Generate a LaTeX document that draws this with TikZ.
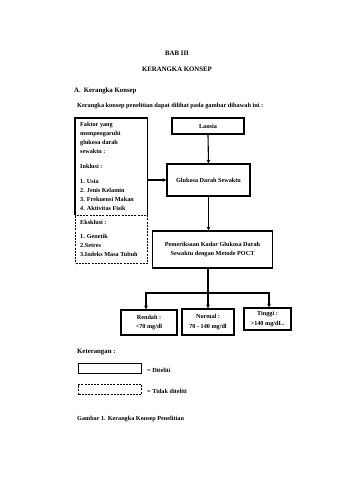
\documentclass[tikz,border=0pt]{standalone}
\usepackage{fontspec}
\setmainfont{Liberation Serif}
\usetikzlibrary{arrows.meta}
\begin{document}
\begin{tikzpicture}[x=1pt,y=-1pt,
  txt/.style={inner sep=0pt,font=\bfseries\fontsize{6.8}{9}\selectfont},
  btxt/.style={inner sep=0pt,font=\bfseries\fontsize{6.2}{9}\selectfont,align=left},
  ctxt/.style={inner sep=0pt,font=\bfseries\fontsize{6.2}{9.5}\selectfont,align=center},
  solidbox/.style={draw,line width=1.15pt,inner sep=0pt},
  dashbox/.style={draw,line width=1.1pt,dash pattern=on 2pt off 1.2pt,inner sep=0pt},
  arr/.style={line width=1.1pt,-{Stealth[length=3.8pt,width=3.8pt]}},
  ln/.style={line width=1.1pt}]
\useasboundingbox[fill=white] (0,0) rectangle (339,480);
% headings
\node[txt] (bab) at (177,53) {BAB III};
\node[txt] (judul) at (177,69) {KERANGKA KONSEP};
\node[txt,anchor=west] (suba) at (74,91) {A.\hspace{3pt}Kerangka Konsep};
\node[txt,anchor=west,font=\bfseries\fontsize{6.3}{9}\selectfont] (kal) at (77,106) {Kerangka konsep penelitian dapat dilihat pada gambar dibawah ini :};
% left box
\node[minimum width=72pt,minimum height=97pt,inner sep=0pt,anchor=north west] (faktor) at (75,118) {};
\draw[ln,line width=1.15pt] (faktor.south west) -- (faktor.north west) -- (faktor.north east) -- (faktor.south east);
\node[btxt,anchor=north west] (faktortxt) at (80,122) {Faktor yang\\mempengaruhi\\glukosa darah\\sewaktu :\\[6pt]Inklusi :\\[6pt]1. Usia\\2. Jenis Kelamin\\3. Frekuensi Makan\\4. Aktivitas Fisik};
\node[dashbox,minimum width=72pt,minimum height=48pt,anchor=north west] (eks) at (75,215) {};
\node[btxt,anchor=north west] (ekstxt) at (80,220) {Eksklusi :\\[5pt]1. Genetik\\2.Setres\\3.Indeks Masa Tubuh};
% center boxes
\node[solidbox,minimum width=72pt,minimum height=16pt,ctxt] (lansia) at (208,126) {Lansia};
\node[solidbox,minimum width=83pt,minimum height=32pt,ctxt] (gds) at (208.5,180) {Glukosa Darah Sewaktu};
\node[solidbox,minimum width=120pt,minimum height=37pt,ctxt] (periksa) at (212.5,249.5) {Pemeriksaan Kadar Glukosa Darah\\Sewaktu dengan Metode POCT};
\node[solidbox,minimum width=56pt,minimum height=25pt,ctxt] (rendah) at (149,322.5) {Rendah :\\<70 mg/dl};
\node[solidbox,minimum width=52pt,minimum height=26pt,ctxt] (normal) at (208,322) {Normal :\\70 - 140 mg/dl};
\node[solidbox,minimum width=47pt,minimum height=22pt,ctxt] (tinggi) at (267.5,319) {Tinggi :\\>140 mg/dL.};
% connectors
\draw[arr] (lansia.south) -- (gds.north);
\draw[arr] (faktor.east |- gds.west) -- (gds.west);
\draw[arr] (gds.south) -- (gds.south |- periksa.north);
\coordinate (split) at (208,293);
\draw[ln] (periksa.south -| split) -- (split);
\draw[arr] (split) -| (rendah.north -| 146,0);
\draw[arr] (split) -- (normal.north);
\draw[arr] (split) -| (tinggi.north -| 269,0);
% legend
\node[txt,anchor=west] (ket) at (77,352) {Keterangan :};
\node[solidbox,minimum width=63pt,minimum height=10pt,anchor=north west] (legs) at (78,363) {};
\node[txt,anchor=west,font=\bfseries\fontsize{6.2}{9}\selectfont] (legstxt) at (147,370) {= Diteliti};
\node[dashbox,minimum width=63pt,minimum height=10pt,anchor=north west] (legd) at (78,384) {};
\node[txt,anchor=west,font=\bfseries\fontsize{6.2}{9}\selectfont] (legdtxt) at (147,391) {= Tidak diteliti};
\node[txt,anchor=west,font=\bfseries\fontsize{6.2}{9}\selectfont] (gambar) at (77,419) {Gambar 1. Kerangka Konsep Penelitian};
\end{tikzpicture}
\end{document}
